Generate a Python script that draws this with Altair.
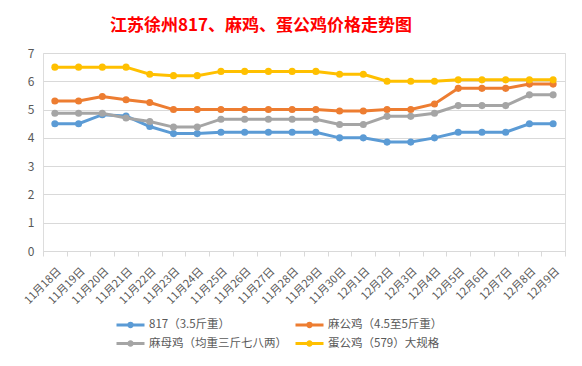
import altair as alt
import pandas as pd

dates = ["11月18日", "11月19日", "11月20日", "11月21日", "11月22日", "11月23日",
         "11月24日", "11月25日", "11月26日", "11月27日", "11月28日", "11月29日",
         "11月30日", "12月1日", "12月2日", "12月3日", "12月4日", "12月5日",
         "12月6日", "12月7日", "12月8日", "12月9日"]

series_names = ["817（3.5斤重）", "麻公鸡（4.5至5斤重）", "麻母鸡（均重三斤七八两）", "蛋公鸡（579）大规格"]
colors = ["#5B9BD5", "#ED7D31", "#A5A5A5", "#FFC000"]

s817 = [4.5, 4.5, 4.82, 4.77, 4.4, 4.15, 4.15, 4.2, 4.2, 4.2, 4.2, 4.2,
        4.0, 4.0, 3.85, 3.85, 4.0, 4.2, 4.2, 4.2, 4.5, 4.5]
ma_gong = [5.3, 5.3, 5.46, 5.35, 5.25, 5.0, 5.0, 5.0, 5.0, 5.0, 5.0, 5.0,
           4.95, 4.95, 5.0, 5.0, 5.2, 5.75, 5.75, 5.75, 5.9, 5.9]
ma_mu = [4.87, 4.87, 4.87, 4.7, 4.58, 4.38, 4.38, 4.66, 4.66, 4.66, 4.66, 4.66,
         4.47, 4.47, 4.76, 4.76, 4.87, 5.14, 5.14, 5.14, 5.52, 5.52]
dan_gong = [6.5, 6.5, 6.5, 6.5, 6.25, 6.2, 6.2, 6.35, 6.35, 6.35, 6.35, 6.35,
            6.25, 6.25, 6.0, 6.0, 6.0, 6.05, 6.05, 6.05, 6.05, 6.05]

all_values = [s817, ma_gong, ma_mu, dan_gong]

rows = []
for name, vals in zip(series_names, all_values):
    for d, v in zip(dates, vals):
        rows.append({"date": d, "series": name, "price": v})
df = pd.DataFrame(rows)

FONT = "Noto Sans CJK SC"
GRAY_TXT = "#595959"

legend_path = ("M-2,0H2M0.25,0A0.25,0.25 0 1,1 -0.25,0A0.25,0.25 0 1,1 0.25,0"
               "M0.1,0A0.1,0.1 0 1,1 -0.1,0A0.1,0.1 0 1,1 0.1,0")

x_enc = alt.X("date:N", sort=dates, title=None,
              scale=alt.Scale(paddingInner=0, paddingOuter=0),
              axis=alt.Axis(labelAngle=-45, labelFontSize=11, labelColor=GRAY_TXT,
                            labelFont=FONT, domainColor="#D9D9D9", tickColor="#D9D9D9",
                            tickSize=5, tickBand="extent", labelPadding=9, grid=False))
y_enc = alt.Y("price:Q", title=None,
              scale=alt.Scale(domain=[0, 7], nice=False),
              axis=alt.Axis(values=[0, 1, 2, 3, 4, 5, 6, 7], labelFontSize=12,
                            labelColor=GRAY_TXT, labelFont=FONT, domain=False, ticks=False,
                            gridColor="#D9D9D9", labelPadding=9))
color_enc = alt.Color("series:N", sort=series_names,
                      scale=alt.Scale(domain=series_names, range=colors),
                      legend=alt.Legend(orient="none", legendX=79, legendY=263, columns=2,
                                        direction="horizontal",
                                        title=None, symbolType=legend_path, symbolSize=196,
                                        symbolStrokeWidth=3, labelFontSize=11.5,
                                        labelColor=GRAY_TXT, labelFont=FONT, labelOffset=10,
                                        columnPadding=2, rowPadding=2))

layers = []
for name in series_names:
    base = alt.Chart(df).transform_filter(alt.datum.series == name)
    layers.append(base.mark_line(strokeWidth=3).encode(x=x_enc, y=y_enc, color=color_enc))
    layers.append(base.mark_circle(size=50, opacity=1).encode(x=x_enc, y=y_enc, color=color_enc))

chart = alt.layer(*layers).properties(
    width=522, height=198,
    title=alt.TitleParams("江苏徐州817、麻鸡、蛋公鸡价格走势图", color="#FF0000", fontSize=17,
                          font=FONT, fontWeight="bold", anchor="middle", dx=-43, offset=12),
    autosize=alt.AutoSizeParams(type="none"),
    padding={"left": 35, "top": 45, "right": 9, "bottom": 107},
).configure_view(stroke=None).configure(background="white")

chart.save("out.html", embed_options={"renderer": "svg", "actions": False})
